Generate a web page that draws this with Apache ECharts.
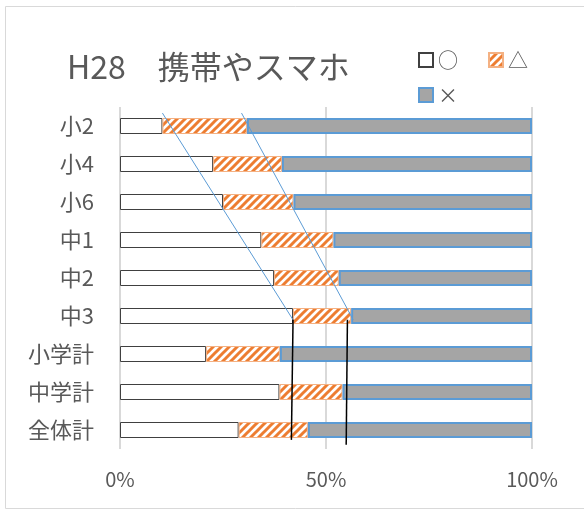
<!DOCTYPE html>
<html>
<head>
<meta charset="utf-8">
<script src="https://cdn.jsdelivr.net/npm/echarts@6/dist/echarts.min.js"></script>
<style>
  html, body { margin: 0; padding: 0; background: #fff; }
  #chart { width: 584px; height: 512px; }
</style>
</head>
<body>
<div id="chart"></div>
<script>
// 区分
var categories = ['小2', '小4', '小6', '中1', '中2', '中3', '小学計', '中学計', '全体計'];
// 割合（%）
var maruValues = [10.3, 22.6, 25.0, 34.3, 37.4, 42.0, 20.9, 38.7, 28.8];
var sankakuValues = [20.5, 16.7, 17.1, 17.5, 15.7, 14.1, 17.9, 15.3, 16.8];
var batsuValues = [69.2, 60.7, 57.9, 48.2, 46.9, 43.9, 61.2, 46.0, 54.4];
var xTicks = [0, 50, 100];
// 補助線 [x(%), 行位置]
var blueLineA = [[10.3, -0.34], [42.0, 5.1]];
var blueLineB = [[29.5, -0.34], [56.6, 5.1]];
var blackLineA = [[42.0, 5.1], [41.6, 8.26]];
var blackLineB = [[55.2, 5.1], [54.9, 8.39]];

// 斜線パターン
function makeHatch() {
    var c = document.createElement('canvas');
    c.width = 8;
    c.height = 8;
    var ctx = c.getContext('2d');
    ctx.fillStyle = '#ffffff';
    ctx.fillRect(0, 0, 8, 8);
    ctx.strokeStyle = '#ed7d31';
    ctx.lineWidth = 3;
    ctx.beginPath();
    ctx.moveTo(-2, 2); ctx.lineTo(2, -2);
    ctx.moveTo(0, 8); ctx.lineTo(8, 0);
    ctx.moveTo(6, 10); ctx.lineTo(10, 6);
    ctx.stroke();
    return c;
}
var hatch = { image: makeHatch(), repeat: 'repeat' };

var myChart = echarts.init(document.getElementById('chart'));
var font = "'Noto Sans CJK JP', 'Noto Sans', sans-serif";

function guide(data, color, width) {
    return {
        type: 'line',
        xAxisIndex: 0,
        yAxisIndex: 1,
        data: data,
        symbol: 'none',
        silent: true,
        z: 10,
        lineStyle: { color: color, width: width }
    };
}

var option = {
    animation: false,
    textStyle: { fontFamily: font },
    title: {
        text: 'H28　携帯やスマホ',
        left: 62,
        top: 46,
        textStyle: { color: '#595959', fontSize: 32, fontWeight: 'normal', fontFamily: font }
    },
    legend: [{
        data: ['○', '△'],
        left: 413,
        top: 45,
        icon: 'rect',
        itemWidth: 14,
        itemHeight: 14,
        itemGap: 30,
        textStyle: { color: '#595959', fontSize: 20, fontFamily: font }
    }, {
        data: ['×'],
        left: 413,
        top: 80,
        icon: 'rect',
        itemWidth: 14,
        itemHeight: 14,
        textStyle: { color: '#595959', fontSize: 20, fontFamily: font }
    }],
    grid: { left: 120, right: 52, top: 107, bottom: 63 },
    xAxis: {
        type: 'value',
        min: xTicks[0],
        max: xTicks[xTicks.length - 1],
        interval: 50,
        axisLine: { show: false },
        axisTick: { show: false },
        splitLine: { lineStyle: { color: '#d9d9d9', width: 2 } },
        axisLabel: { formatter: '{value}%', color: '#595959', fontSize: 20, margin: 20, fontFamily: font }
    },
    yAxis: [{
        type: 'category',
        data: categories,
        inverse: true,
        axisLine: { show: false },
        axisTick: { show: false },
        axisLabel: { color: '#595959', fontSize: 22, margin: 26, fontFamily: font }
    }, {
        type: 'value',
        min: -0.5,
        max: 8.5,
        inverse: true,
        show: false
    }],
    series: [{
        name: '○',
        type: 'bar',
        stack: 'all',
        barWidth: 16,
        data: maruValues,
        itemStyle: { color: '#ffffff', borderColor: '#404040', borderWidth: 1 }
    }, {
        name: '△',
        type: 'bar',
        stack: 'all',
        barWidth: 16,
        data: sankakuValues,
        itemStyle: { color: hatch, borderColor: '#f4b183', borderWidth: 1 }
    }, {
        name: '×',
        type: 'bar',
        stack: 'all',
        barWidth: 16,
        data: batsuValues,
        itemStyle: { color: '#a5a5a5', borderColor: '#5b9bd5', borderWidth: 2 }
    },
        guide(blueLineA, '#5b9bd5', 1),
        guide(blueLineB, '#5b9bd5', 1),
        guide(blackLineA, '#000000', 1.5),
        guide(blackLineB, '#000000', 1.5)
    ],
    graphic: [{
        type: 'rect',
        silent: true,
        shape: { x: 5.5, y: 6.5, width: 620, height: 502 },
        style: { fill: 'none', stroke: '#d9d9d9', lineWidth: 1 }
    }]
};

myChart.setOption(option);
window.addEventListener('resize', function () {
    myChart.resize();
});
</script>
</body>
</html>
